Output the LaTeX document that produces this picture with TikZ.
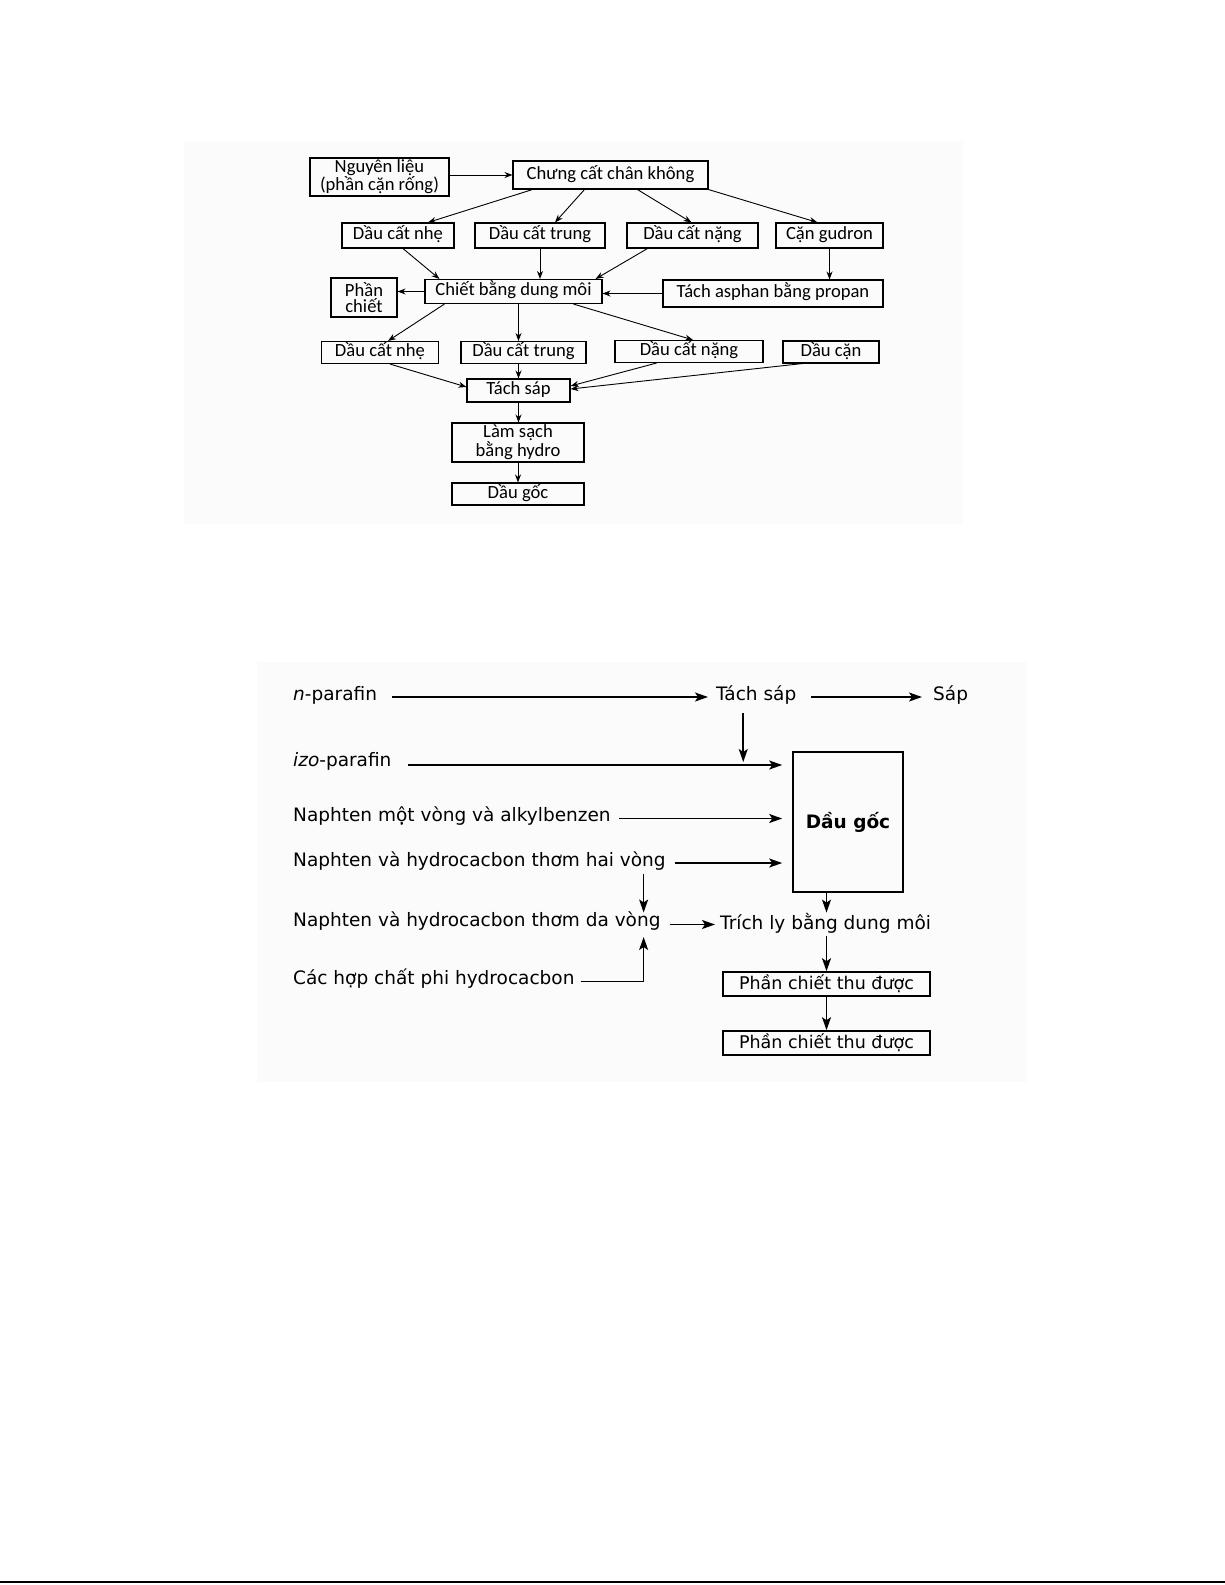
\documentclass[tikz,border=0pt]{standalone}
\usepackage{fontspec}
\setmainfont{Carlito}
\newfontfamily\dejavu{DejaVu Sans}[ItalicFont={DejaVu Sans Oblique}, BoldFont={DejaVu Sans Bold}]
\usetikzlibrary{arrows.meta}

\begin{document}
\begin{tikzpicture}[
    x=1pt, y=1pt,
    box/.style={draw, line width=1.1pt, inner sep=0pt, align=center, text height=12.5pt, text depth=4pt, font=\fontsize{18.6}{16.5}\selectfont},
    twobox/.style={draw, line width=1.1pt, inner sep=0pt, align=center, font=\fontsize{18.6}{16.5}\selectfont},
    link/.style={-{Stealth[length=8pt,width=6pt]}, line width=0.9pt},
    item/.style={inner sep=0pt, anchor=base west, font=\dejavu\fontsize{18.5}{22}\selectfont},
    rect/.style={draw, line width=1.6pt, inner sep=0pt, font=\dejavu\fontsize{17.5}{22}\selectfont},
    flow/.style={-{Stealth[length=13pt,width=9pt,inset=3pt]}, line width=1.6pt}
]
\useasboundingbox (0,0) rectangle (1225,-1585);

% faint scan backgrounds
\fill[black!1.5] (184,-141) rectangle (963,-524);
\fill[black!1.5] (257,-662) rectangle (1027,-1082);
\draw[line width=2pt] (0,-1582) -- (1225,-1582);

% upper scheme
\node[twobox, minimum width=139pt, minimum height=38pt] (feed) at (379.5,-177) {Nguyên liệu\\(phần cặn rống)};
\node[box, minimum width=195pt, minimum height=28pt] (vacuum) at (610.5,-175) {Chưng cất chân không};
\node[box, minimum width=112pt, minimum height=25pt] (light) at (398,-235.5) {Dầu cất nhẹ};
\node[box, minimum width=130pt, minimum height=25pt] (middle) at (540,-235.5) {Dầu cất trung};
\node[box, minimum width=131pt, minimum height=25pt] (heavy) at (692.5,-235.5) {Dầu cất nặng};
\node[box, minimum width=107pt, minimum height=25pt] (gudron) at (829.5,-235.5) {Cặn gudron};
\node[box, minimum width=177pt, minimum height=24pt] (solvent) at (513.5,-291.5) {Chiết bằng dung môi};
\node[twobox, minimum width=66pt, minimum height=39pt] (extract) at (364,-297.5) {Phần\\chiết};
\node[box, minimum width=220pt, minimum height=27pt] (deasph) at (773,-293.5) {Tách asphan bằng propan};
\node[box, minimum width=117pt, minimum height=22pt] (rlight) at (380,-352.5) {Dầu cất nhẹ};
\node[box, minimum width=125pt, minimum height=22pt] (rmiddle) at (523.5,-352.5) {Dầu cất trung};
\node[box, minimum width=148pt, minimum height=22pt] (rheavy) at (689,-351.5) {Dầu cất nặng};
\node[box, minimum width=96pt, minimum height=22pt] (residue) at (831,-352) {Dầu cặn};
\node[box, minimum width=103pt, minimum height=23pt] (dewax) at (518.5,-390.5) {Tách sáp};
\node[twobox, minimum width=132pt, minimum height=39pt] (hydro) at (518,-442.5) {Làm sạch\\bằng hydro};
\node[box, minimum width=132pt, minimum height=22pt] (base) at (518,-494) {Dầu gốc};

\draw[link] (feed.east |- vacuum.west) -- (vacuum.west);
\draw[link] ([xshift=20pt]vacuum.south west) -- ([xshift=30pt]light.north);
\draw[link] ([xshift=72pt]vacuum.south west) -- ([xshift=15pt]middle.north);
\draw[link] ([xshift=125pt]vacuum.south west) -- ([xshift=-1pt]heavy.north);
\draw[link] (vacuum.south east) -- ([xshift=-12pt]gudron.north);
\draw[link] ([xshift=5pt]light.south) -- ([xshift=15pt]solvent.north west);
\draw[link] (middle.south) -- (middle.south |- solvent.north);
\draw[link] ([xshift=21pt]heavy.south west) -- ([xshift=-7pt]solvent.north east);
\draw[link] (gudron.south) -- (gudron.south |- deasph.north);
\draw[link] (deasph.west) -- (deasph.west -| solvent.east);
\draw[link] (solvent.west) -- (solvent.west -| extract.east);
\draw[link] ([xshift=20pt]solvent.south west) -- ([xshift=8pt]rlight.north);
\draw[link] ([xshift=5pt]solvent.south) -- ([xshift=5pt]solvent.south |- rmiddle.north);
\draw[link] ([xshift=-29pt]solvent.south east) -- ([xshift=4pt]rheavy.north);
\draw[link] ([xshift=10pt]rlight.south) -- ([yshift=3.5pt]dewax.west);
\draw[link] (dewax.north |- rmiddle.south) -- (dewax.north);
\draw[link] ([xshift=42pt]rheavy.south west) -- ([yshift=4.5pt]dewax.east);
\draw[link] ([xshift=20pt]residue.south west) -- ([yshift=1.5pt]dewax.east);
\draw[link] (dewax.south) -- (dewax.south |- hydro.north);
\draw[link] (hydro.south) -- (base.north);

% lower scheme
\node[item] (npar) at (293,-700) {\textit{n}-parafin};
\node[item] (dewax2) at (716,-700) {Tách sáp};
\node[item] (wax) at (933,-700) {Sáp};
\node[item] (izo) at (293,-766) {\textit{izo}-parafin};
\node[item] (mono) at (293,-821.5) {Naphten một vòng và alkylbenzen};
\node[item] (bi) at (293,-866) {Naphten và hydrocacbon thơm hai vòng};
\node[item] (poly) at (293,-926.5) {Naphten và hydrocacbon thơm da vòng};
\node[item] (hetero) at (293,-984) {Các hợp chất phi hydrocacbon};
\node[item] (extr) at (720,-929) {Trích ly bằng dung môi};
\node[rect, minimum width=110pt, minimum height=140pt, font=\dejavu\bfseries\fontsize{18.5}{22}\selectfont] (oil) at (848,-822) {Dầu gốc};
\node[rect, minimum width=207pt, minimum height=24pt] (phase1) at (826.5,-984) {Phần chiết thu được};
\node[rect, minimum width=207pt, minimum height=24pt] (phase2) at (826.5,-1043) {Phần chiết thu được};

\coordinate (drop) at ([xshift=-13pt]dewax2.base |- izo.base);
\coordinate (join) at ([xshift=-17pt]poly.base east);

\draw[flow, shorten <=15pt, shorten >=8pt] ([yshift=3pt]npar.base east) -- ([yshift=3pt]dewax2.base west);
\draw[flow, shorten <=15pt, shorten >=11pt] ([yshift=3pt]dewax2.base east) -- ([yshift=3pt]wax.base west);
\draw[flow] ([xshift=-13pt,yshift=-13pt]dewax2.base) -- ([yshift=4pt]drop);
\draw[flow, shorten <=16pt, shorten >=10pt] ([yshift=1pt]izo.base east) -- ([yshift=1pt]izo.base east -| oil.west);
\draw[flow, shorten <=8pt, shorten >=10pt] ([yshift=3pt]mono.base east) -- ([yshift=3pt]mono.base east -| oil.west);
\draw[flow, shorten <=9pt, shorten >=10pt] ([yshift=3pt]bi.base east) -- ([yshift=3pt]bi.base east -| oil.west);
\draw[flow] ([yshift=-8pt]bi.base -| join) -- ([yshift=14pt]join);
\draw[flow, shorten <=6pt] ([yshift=2.5pt]hetero.base east) -| ([yshift=-10.5pt]join);
\draw[flow, shorten <=9pt, shorten >=5pt] ([yshift=2pt]poly.base east) -- ([yshift=2pt]poly.base east -| extr.base west);
\draw[flow] (oil.south -| phase1.north) -- (phase1.north |- extr.north);
\draw[flow, shorten <=3pt] (phase1.north |- extr.south) -- (phase1.north);
\draw[flow] (phase1.south) -- (phase2.north);
\end{tikzpicture}
\end{document}
